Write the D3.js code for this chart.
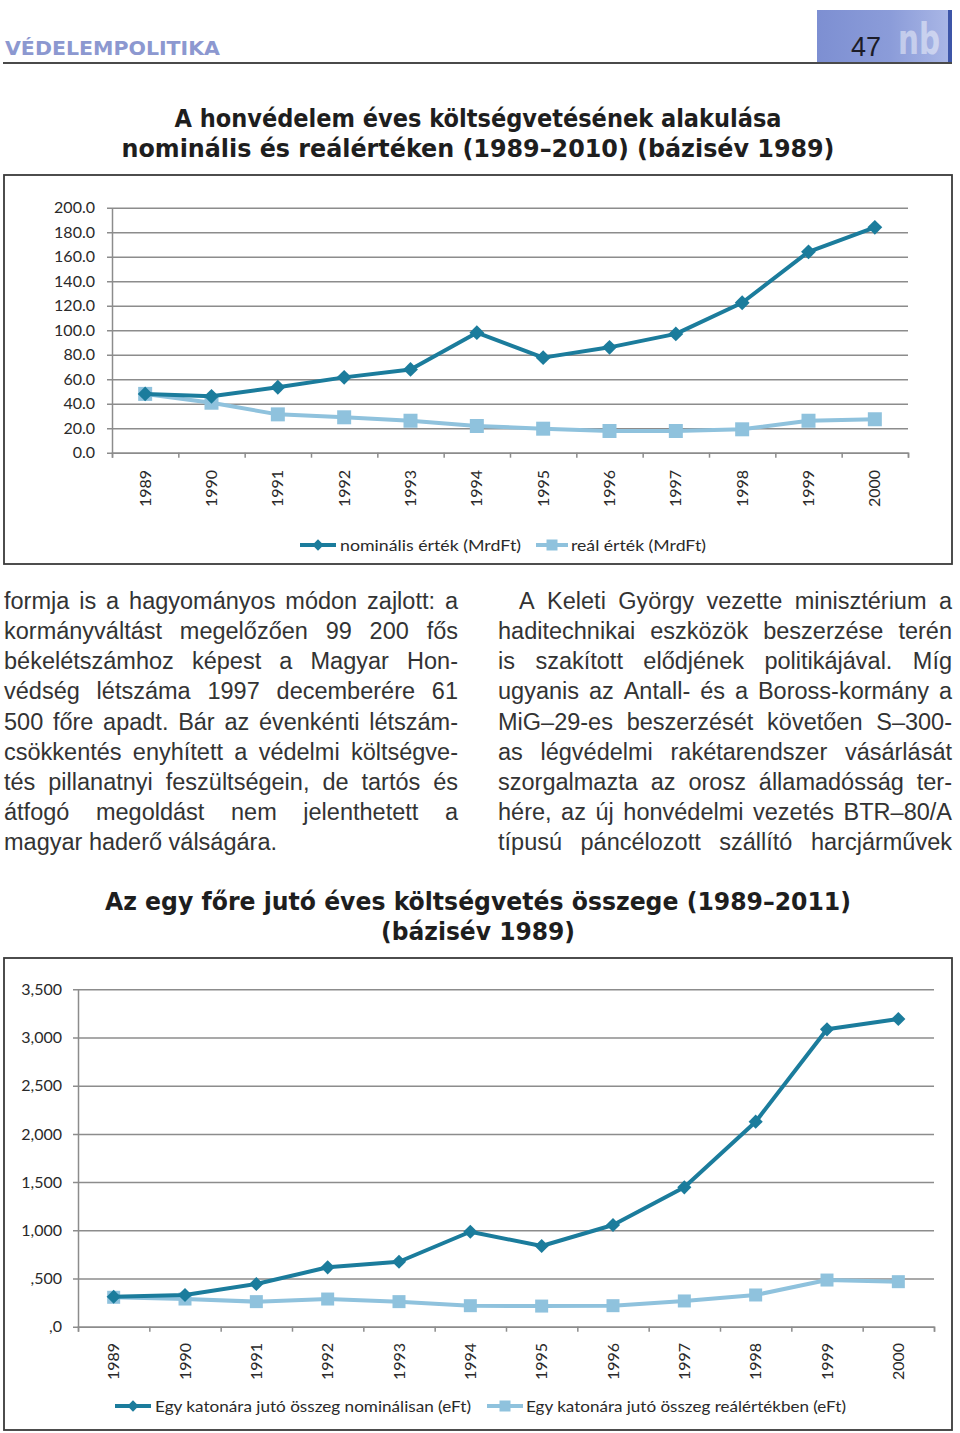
<!DOCTYPE html>
<html><head><meta charset="utf-8">
<script src="https://cdn.jsdelivr.net/npm/d3@7"></script>
<style>
html,body{margin:0;padding:0;background:#fff;}
svg{display:block;}
</style></head>
<body>
<svg id="page" width="960" height="1433"></svg>
<script>
// ---------- DATA ----------
const years = ["1989","1990","1991","1992","1993","1994","1995","1996","1997","1998","1999","2000"];
const nominal1 = [48, 46, 53.4, 61.5, 68, 98, 77.6, 86, 97, 122.4, 164, 184];
const real1 = [48, 40.8, 31.3, 28.9, 26.1, 21.8, 19.6, 17.7, 17.7, 19.1, 26.1, 27.3];
const yTicks1 = [0, 20, 40, 60, 80, 100, 120, 140, 160, 180, 200];
const yTickLabels1 = ["0.0","20.0","40.0","60.0","80.0","100.0","120.0","140.0","160.0","180.0","200.0"];
const legend1 = ["nominális érték (MrdFt)", "reál érték (MrdFt)"];

const nominal2 = [311, 329, 443, 616, 674, 985, 837, 1055, 1446, 2127, 3085, 3192];
const real2 = [305, 287, 260, 287, 260, 218, 214, 218, 267, 329, 484, 467];
const yTicks2 = [0, 500, 1000, 1500, 2000, 2500, 3000, 3500];
const yTickLabels2 = [",0", ",500", "1,000", "1,500", "2,000", "2,500", "3,000", "3,500"];
const legend2 = ["Egy katonára jutó összeg nominálisan (eFt)", "Egy katonára jutó összeg reálértékben (eFt)"];

const title1 = ["A honvédelem éves költségvetésének alakulása", "nominális és reálértéken (1989–2010) (bázisév 1989)"];
const title2 = ["Az egy főre jutó éves költségvetés összege (1989–2011)", "(bázisév 1989)"];

const leftLines = [
  "formja is a hagyományos módon zajlott: a",
  "kormányváltást megelőzően 99 200 fős",
  "békelétszámhoz képest a Magyar Hon-",
  "védség létszáma 1997 decemberére 61",
  "500 főre apadt. Bár az évenkénti létszám-",
  "csökkentés enyhített a védelmi költségve-",
  "tés pillanatnyi feszültségein, de tartós és",
  "átfogó megoldást nem jelenthetett a",
  "magyar haderő válságára."
];
const rightLines = [
  "A Keleti György vezette minisztérium a",
  "haditechnikai eszközök beszerzése terén",
  "is szakított elődjének politikájával. Míg",
  "ugyanis az Antall- és a Boross-kormány a",
  "MiG–29-es beszerzését követően S–300-",
  "as légvédelmi rakétarendszer vásárlását",
  "szorgalmazta az orosz államadósság ter-",
  "hére, az új honvédelmi vezetés BTR–80/A",
  "típusú páncélozott szállító harcjárművek"
];

// ---------- STYLE ----------
const NOM = "#1b7c9c", REAL = "#8fc2dd";
const chartFont = "Lato, 'Open Sans', sans-serif";
const svg = d3.select("#page");

// ---------- HEADER ----------
const defs = svg.append("defs");
const g1 = defs.append("linearGradient").attr("id","hdr").attr("x1","0").attr("x2","1");
g1.append("stop").attr("offset","0").attr("stop-color","#7d8fd2");
g1.append("stop").attr("offset","0.55").attr("stop-color","#8b9cd9");
g1.append("stop").attr("offset","1").attr("stop-color","#aab7e6");
svg.append("rect").attr("x",817).attr("y",10).attr("width",133).attr("height",53).attr("fill","url(#hdr)");
svg.append("rect").attr("x",948).attr("y",10).attr("width",4).attr("height",53).attr("fill","#3d55a8");
svg.append("text").attr("x",898).attr("y",54).attr("font-family","'DejaVu Sans Condensed','DejaVu Sans',sans-serif")
  .attr("font-weight","bold").attr("font-size",42).attr("fill","#ffffff").attr("opacity",0.45).attr("text-anchor","start")
  .attr("textLength",42).attr("lengthAdjust","spacingAndGlyphs").text("nb");
svg.append("text").attr("x",866).attr("y",56).attr("font-family","'Liberation Sans',Arial,sans-serif")
  .attr("font-size",27).attr("fill","#1c1c28").attr("text-anchor","middle").text("47");
svg.append("text").attr("x",5).attr("y",55).attr("font-family","'DejaVu Sans Condensed','DejaVu Sans',sans-serif")
  .attr("font-weight","bold").attr("font-size",19).attr("fill","#8c98d0")
  .attr("textLength",215).attr("lengthAdjust","spacingAndGlyphs").text("VÉDELEMPOLITIKA");
svg.append("line").attr("x1",3).attr("x2",952).attr("y1",63).attr("y2",63).attr("stroke","#4a4a4a").attr("stroke-width",2);

// ---------- TITLES ----------
function title(lines, ys, widths){
  lines.forEach((t,i)=>{
    svg.append("text").attr("x",478).attr("y",ys[i]).attr("text-anchor","middle")
      .attr("font-family","'DejaVu Sans Condensed','DejaVu Sans',sans-serif").attr("font-weight","bold")
      .attr("font-size",25).attr("fill","#1e1e1e")
      .attr("textLength",widths[i]).attr("lengthAdjust","spacingAndGlyphs").text(t);
  });
}
title(title1, [127,157], [607,713]);
title(title2, [910,940], [746,194]);

// ---------- PARAGRAPHS ----------
function paragraph(lines, x, width, y0, lh, indent, lastJustified){
  lines.forEach((ln,i)=>{
    const words = ln.split(" ");
    const lx = x + (i===0 ? indent : 0);
    const lw = width - (i===0 ? indent : 0);
    const tg = svg.append("g");
    const nodes = words.map(w=> tg.append("text").attr("y", y0 + i*lh)
      .attr("font-family","'Liberation Sans',Arial,sans-serif").attr("font-size",23.5)
      .attr("fill","#333333").text(w));
    let ws = nodes.map(n=>n.node().getComputedTextLength());
    const total = d3.sum(ws);
    const justify = (i < lines.length-1) || lastJustified;
    let gap = justify && words.length>1 ? (lw - total)/(words.length-1) : 6.5;
    if (gap < 4 && words.length>1) {
      // squeeze slightly if the line is too long
      const scale = (lw - 4*(words.length-1)) / total;
      nodes.forEach((n,k)=>{ n.attr("textLength", ws[k]*scale).attr("lengthAdjust","spacingAndGlyphs"); });
      ws = ws.map(w=>w*scale); gap = 4;
    }
    let cx = lx;
    nodes.forEach((n,k)=>{ n.attr("x",cx); cx += ws[k] + gap; });
  });
}
paragraph(leftLines, 4, 454, 609, 30.15, 0, false);
paragraph(rightLines, 498, 454, 609, 30.15, 21, true);

// ---------- CHART BUILDER ----------
function chart(cfg){
  const {frame, x0, x1, yTop, yBot, domainMax, ticks, tickLabels, labelPad, nom, real, yearTop,
         fontSize, legend, leg, lw, dia, sq} = cfg;
  svg.append("rect").attr("x",frame[0]).attr("y",frame[1]).attr("width",frame[2]).attr("height",frame[3])
    .attr("fill","#fff").attr("stroke","#3a3a3a").attr("stroke-width",1.8);
  const x = d3.scaleBand().domain(years).range([x0,x1]).padding(0);
  const xe = d3.scaleLinear().domain([0,years.length]).range([x0,x1]);
  const y = d3.scaleLinear().domain([0,domainMax]).range([yBot,yTop]);
  const g = svg.append("g");

  const grid = g.append("g").attr("transform",`translate(${x0-5},0)`)
    .call(d3.axisRight(y).tickValues(ticks).tickSize(x1-x0+5).tickFormat(""));
  grid.select(".domain").remove();
  grid.selectAll("line").attr("stroke","#8c8c8c").attr("stroke-width",1.5);

  const ya = g.append("g").attr("transform",`translate(${x0},0)`)
    .call(d3.axisLeft(y).tickValues(ticks).tickSize(0).tickPadding(labelPad)
      .tickFormat((d,i)=>tickLabels[i]));
  ya.select(".domain").attr("stroke","#8c8c8c").attr("stroke-width",1.5);
  ya.selectAll("text").attr("font-family",chartFont).attr("font-size",fontSize).attr("fill","#2a2a2a");

  const xa = g.append("g").attr("transform",`translate(0,${yBot})`)
    .call(d3.axisBottom(xe).tickValues(d3.range(years.length+1)).tickSize(5).tickFormat(""));
  xa.select(".domain").attr("stroke","#8c8c8c").attr("stroke-width",1.5);
  xa.selectAll("line").attr("stroke","#8c8c8c").attr("stroke-width",1.5);

  const xl = g.append("g").attr("transform",`translate(0,${yBot})`)
    .call(d3.axisBottom(x).tickSize(0));
  xl.select(".domain").remove();
  xl.selectAll("text").attr("transform","rotate(-90)").attr("x",-(yearTop-yBot)).attr("y",0)
    .attr("dy","0.35em").style("text-anchor","end")
    .attr("font-family",chartFont).attr("font-size",fontSize).attr("fill","#2a2a2a");

  const line = d3.line().x((d,i)=>x(years[i])+x.bandwidth()/2).y(d=>y(d));
  const sym = (type,size)=>d3.symbol().type(type).size(size);

  g.append("path").datum(real).attr("d",line).attr("fill","none").attr("stroke",REAL)
    .attr("stroke-width",lw).attr("stroke-linejoin","round");
  g.selectAll(".sq").data(real).enter().append("path")
    .attr("transform",(d,i)=>`translate(${x(years[i])+x.bandwidth()/2},${y(d)})`)
    .attr("d",sym(d3.symbolSquare, sq*sq)).attr("fill",REAL);
  g.append("path").datum(nom).attr("d",line).attr("fill","none").attr("stroke",NOM)
    .attr("stroke-width",lw).attr("stroke-linejoin","round");
  g.selectAll(".dm").data(nom).enter().append("path")
    .attr("transform",(d,i)=>`translate(${x(years[i])+x.bandwidth()/2},${y(d)}) rotate(45)`)
    .attr("d",sym(d3.symbolSquare, dia*dia)).attr("fill",NOM);

  const items = [
    {lx:leg.a[0], lx2:leg.a[1], tx:leg.a[2], tw:leg.a[3], c:NOM, t:legend[0], d:true},
    {lx:leg.b[0], lx2:leg.b[1], tx:leg.b[2], tw:leg.b[3], c:REAL, t:legend[1], d:false}
  ];
  items.forEach(it=>{
    const lg = svg.append("g");
    lg.append("line").attr("x1",it.lx).attr("x2",it.lx2).attr("y1",leg.y).attr("y2",leg.y)
      .attr("stroke",it.c).attr("stroke-width",lw);
    const mx = (it.lx+it.lx2)/2;
    if(it.d){
      lg.append("path").attr("transform",`translate(${mx},${leg.y}) rotate(45)`)
        .attr("d",sym(d3.symbolSquare, 64)).attr("fill",it.c);
    } else {
      lg.append("path").attr("transform",`translate(${mx},${leg.y})`)
        .attr("d",sym(d3.symbolSquare, 121)).attr("fill",it.c);
    }
    lg.append("text").attr("x",it.tx).attr("y",leg.y+5.5).attr("font-family",chartFont)
      .attr("font-size",fontSize).attr("fill","#2a2a2a")
      .attr("textLength",it.tw).attr("lengthAdjust","spacingAndGlyphs").text(it.t);
  });
}

chart({
  frame:[4,175,948,389], x0:112, x1:908, yTop:207.7, yBot:452.7, domainMax:200,
  ticks:yTicks1, tickLabels:yTickLabels1, labelPad:17, nom:nominal1, real:real1,
  yearTop:470, fontSize:16, legend:legend1, lw:4, dia:10.5, sq:14,
  leg:{y:545, a:[300,336,340,181], b:[536,568,571,135]}
});
chart({
  frame:[4,958,948,472], x0:78, x1:934, yTop:989.3, yBot:1326.7, domainMax:3500,
  ticks:yTicks2, tickLabels:yTickLabels2, labelPad:16, nom:nominal2, real:real2,
  yearTop:1343, fontSize:16, legend:legend2, lw:4, dia:10, sq:13,
  leg:{y:1406, a:[115,151,155,316], b:[487,523,526,320]}
});
</script>
</body></html>
